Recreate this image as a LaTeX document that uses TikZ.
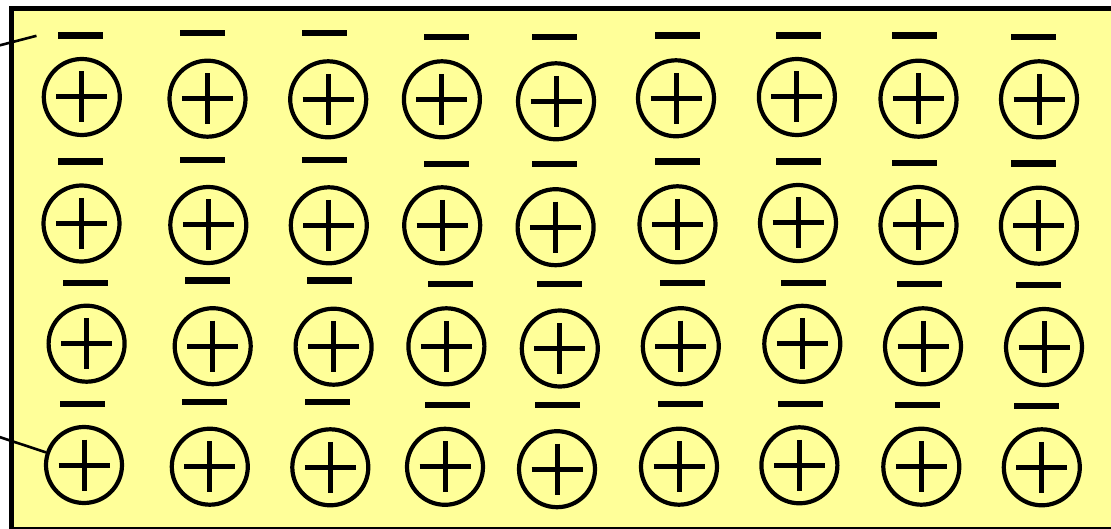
\documentclass[tikz,border=0pt]{standalone}
\definecolor{paleyellow}{RGB}{255,255,153}
\tikzset{
  ion/.style={circle, draw=black, line width=4.2pt, minimum size=76pt, inner sep=0pt,
    path picture={
      \draw[line width=5pt] ([xshift=12.5pt]path picture bounding box.west) -- ([xshift=-12.5pt]path picture bounding box.east);
      \draw[line width=5pt] ([yshift=-12.5pt]path picture bounding box.north) -- ([yshift=12.5pt]path picture bounding box.south);
    }},
  electron/.style={rectangle, fill=black, draw=none, minimum width=45pt, minimum height=6.5pt, inner sep=0pt},
  leader/.style={draw=black, line width=2.6pt},
  plate/.style={fill=paleyellow, draw=black, line width=5pt}
}
\begin{document}
\begin{tikzpicture}[x=1pt, y=-1pt]
\useasboundingbox (0,0) rectangle (1111,529);
\fill[white] (0,0) rectangle (1111,529);
\path[plate] (11.5,8.5) rectangle (1130,529.5);
% positive ions
\foreach \n/\x/\y in {
  11/81.8/97, 12/207.5/98.7, 13/328.2/99.3, 14/441.9/99.3, 15/556/101.3, 16/676/98.3, 17/796.9/97, 18/918.5/98.7, 19/1039/99.3,
  21/81.5/223.5, 22/208.3/225, 23/328.8/225.3, 24/442.2/225.3, 25/555.6/227.2, 26/677.5/224.3, 27/798/223, 28/918.5/225, 29/1038.9/225.7,
  31/86.6/343.7, 32/212.7/346.2, 33/333.6/346.7, 34/446.4/346.3, 35/559.8/348.5, 36/680.8/346.2, 37/802.3/343.8, 38/923/346.3, 39/1044/347,
  41/84/465, 42/209.8/466.7, 43/330.3/467.3, 44/445/466.8, 45/557/469.2, 46/679/466.7, 47/799.4/465.3, 48/921.3/466.7, 49/1041.8/467.3}
  \node[ion] (c\n) at (\x,\y) {};
% electrons
\foreach \n/\x/\y in {
  11/80.4/35.7, 12/202.5/33, 13/324.6/33, 14/446.4/37, 15/554.5/37, 16/677/35.7, 17/798.5/35.7, 18/914.6/35.7, 19/1033/37,
  21/80.8/161.3, 22/202.7/160, 23/324.6/160, 24/446.5/164, 25/554.2/164, 26/677.5/161.7, 27/798.7/161.7, 28/914.2/163, 29/1033.3/163.3,
  31/85.2/283, 32/207.3/280.7, 33/329.6/280.7, 34/450.5/283.8, 35/559/283.8, 36/682.3/283, 37/803.4/283, 38/919.5/283.8, 39/1038.3/285.2,
  41/82.9/404, 42/204.1/402, 43/327.4/402, 44/447.9/405.2, 45/557/405.2, 46/680.3/404, 47/800.8/404, 48/917/405.2, 49/1036/406.2}
  \node[electron] (m\n) at (\x,\y) {};
% leader lines
\coordinate (la) at (-2,45.8);
\coordinate (lb) at (36.5,35.8);
\coordinate (lc) at (-2,436.5);
\draw[leader] (la) -- (lb);
\draw[leader] (lc) -- (c41);
\end{tikzpicture}
\end{document}
